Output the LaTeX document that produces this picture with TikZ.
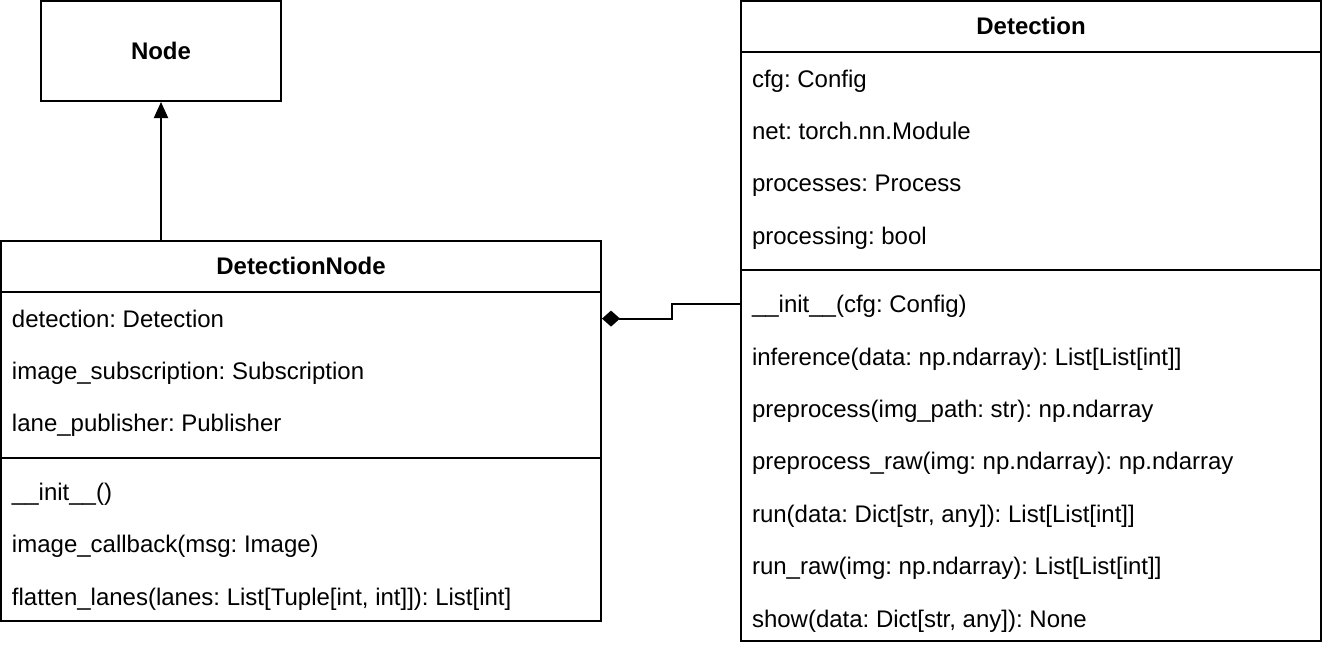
\documentclass[tikz,border=0pt]{standalone}
\usepackage{fontspec}
\setmainfont{Liberation Sans}
\usetikzlibrary{arrows.meta,positioning}
\newcommand\umlfont{\fontsize{24}{28}\selectfont\frenchspacing}
\tikzstyle{cls}=[draw, line width=2pt, inner sep=0pt, font=\umlfont\bfseries]
\tikzstyle{title}=[minimum height=52pt, inner sep=0pt, text height=17pt, text depth=0pt, font=\umlfont\bfseries]
\tikzstyle{row}=[minimum height=52pt, inner sep=0pt, text height=17pt, text depth=0pt, font=\umlfont]
\tikzstyle{sep}=[line width=2pt]
\tikzstyle{inherit}=[line width=2pt, -{Triangle[length=16pt,width=14pt]}]
\tikzstyle{compose}=[line width=2pt, {Diamond[length=18pt,width=16pt]}-]

\begin{document}
\begin{tikzpicture}[x=1pt,y=1pt]
		    \useasboundingbox (0,0) rectangle (1322,-648);
		    % class boxes
		    \node [cls, minimum width=240pt, minimum height=100pt] (node) at (161,-51) {Node};
		    \node [cls, minimum width=600pt, minimum height=380pt] (dn) at (301,-431) {};
		    \node [cls, minimum width=580pt, minimum height=640pt] (det) at (1031,-321) {};
		    % DetectionNode
		    \node [title, minimum width=600pt] (dntitle) [below=0pt of dn.north] {DetectionNode};
		    \draw [sep] (dntitle.south west) -- (dntitle.south east);
		    \node [row] (dna1) [below right=0pt and 11pt of dntitle.south west] {detection: Detection};
		    \node [row] (dna2) [below right=0pt and 0pt of dna1.south west] {image\_subscription: Subscription};
		    \node [row] (dna3) [below right=0pt and 0pt of dna2.south west] {lane\_publisher: Publisher};
		    \draw [sep] ([yshift=-8pt]dn.west |- dna3.south) -- ([yshift=-8pt]dn.east |- dna3.south);
		    \node [row] (dnm1) [below right=16pt and 0pt of dna3.south west] {\_\_init\_\_()};
		    \node [row] (dnm2) [below right=0pt and 0pt of dnm1.south west] {image\_callback(msg: Image)};
		    \node [row] (dnm3) [below right=0pt and 0pt of dnm2.south west] {flatten\_lanes(lanes: List[Tuple[int, int]]): List[int]};
		    % Detection
		    \node [title, minimum width=580pt] (dettitle) [below=0pt of det.north] {Detection};
		    \draw [sep] (dettitle.south west) -- (dettitle.south east);
		    \node [row] (deta1) [below right=0pt and 11pt of dettitle.south west] {cfg: Config};
		    \node [row] (deta2) [below right=0pt and 0pt of deta1.south west] {net: torch.nn.Module};
		    \node [row] (deta3) [below right=0pt and 0pt of deta2.south west] {processes: Process};
		    \node [row] (deta4) [below right=0pt and 0pt of deta3.south west] {processing: bool};
		    \draw [sep] ([yshift=-8pt]det.west |- deta4.south) -- ([yshift=-8pt]det.east |- deta4.south);
		    \node [row] (detm1) [below right=16pt and 0pt of deta4.south west] {\_\_init\_\_(cfg: Config)};
		    \node [row] (detm2) [below right=0pt and 0pt of detm1.south west] {inference(data: np.ndarray): List[List[int]]};
		    \node [row] (detm3) [below right=0pt and 0pt of detm2.south west] {preprocess(img\_path: str): np.ndarray};
		    \node [row] (detm4) [below right=0pt and 0pt of detm3.south west] {preprocess\_raw(img: np.ndarray): np.ndarray};
		    \node [row] (detm5) [below right=0pt and 0pt of detm4.south west] {run(data: Dict[str, any]): List[List[int]]};
		    \node [row] (detm6) [below right=0pt and 0pt of detm5.south west] {run\_raw(img: np.ndarray): List[List[int]]};
		    \node [row] (detm7) [below right=0pt and 0pt of detm6.south west] {show(data: Dict[str, any]): None};
		    % connectors
		    \draw [inherit] (dn.north -| node.south) -- (node.south);
		    \draw [compose] (dn.east |- dna1) -- ++(70pt,0) |- (det.west |- detm1);
\end{tikzpicture}
\end{document}
